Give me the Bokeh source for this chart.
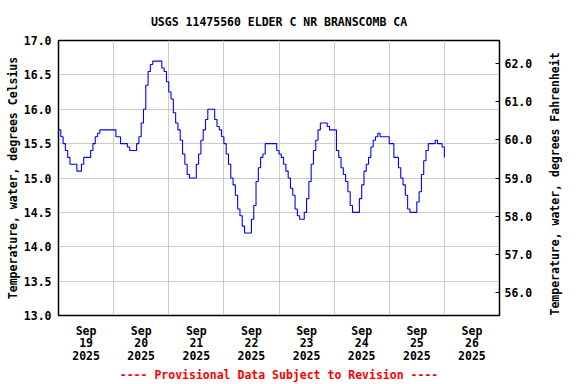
import math
from bokeh.plotting import figure
from bokeh.models import Range1d, LinearAxis, FixedTicker, Title, PrintfTickFormatter
from bokeh.embed import file_html
from bokeh.resources import INLINE

# Hourly water temperature (deg C), starting Sep 19 2025 00:00
sep19 = [15.7, 15.6, 15.5, 15.4, 15.3, 15.2, 15.2, 15.2, 15.1, 15.1, 15.2, 15.3,
         15.3, 15.3, 15.4, 15.5, 15.6, 15.65, 15.7, 15.7, 15.7, 15.7, 15.7, 15.7]
sep20 = [15.7, 15.6, 15.6, 15.5, 15.5, 15.5, 15.45, 15.4, 15.4, 15.4, 15.5, 15.6,
         15.8, 16.0, 16.35, 16.55, 16.65, 16.7, 16.7, 16.7, 16.7, 16.6, 16.55, 16.4]
sep21 = [16.25, 16.15, 15.95, 15.8, 15.7, 15.55, 15.35, 15.2, 15.05, 15.0, 15.0, 15.0,
         15.2, 15.35, 15.55, 15.7, 15.85, 16.0, 16.0, 16.0, 15.85, 15.75, 15.7, 15.6]
sep22 = [15.5, 15.35, 15.2, 15.0, 14.9, 14.75, 14.55, 14.45, 14.3, 14.2, 14.2, 14.2,
         14.4, 14.6, 14.95, 15.15, 15.3, 15.35, 15.5, 15.5, 15.5, 15.5, 15.5, 15.4]
sep23 = [15.35, 15.3, 15.2, 15.1, 15.0, 14.85, 14.75, 14.55, 14.45, 14.4, 14.4, 14.5,
         14.7, 14.95, 15.2, 15.4, 15.55, 15.7, 15.8, 15.8, 15.8, 15.75, 15.7, 15.7]
sep24 = [15.7, 15.4, 15.3, 15.15, 15.05, 14.95, 14.8, 14.6, 14.5, 14.5, 14.5, 14.7,
         14.9, 15.1, 15.2, 15.3, 15.45, 15.55, 15.6, 15.65, 15.6, 15.6, 15.6, 15.6]
sep25 = [15.5, 15.5, 15.3, 15.3, 15.15, 15.0, 14.9, 14.75, 14.55, 14.5, 14.5, 14.5,
         14.65, 14.8, 15.05, 15.25, 15.4, 15.5, 15.5, 15.5, 15.55, 15.5, 15.5, 15.45]
sep26 = [15.3]

tick_months = ["Sep"] * 8
tick_days = ["19", "20", "21", "22", "23", "24", "25", "26"]
tick_years = ["2025"] * 8
celsius_ticks = [13.0, 13.5, 14.0, 14.5, 15.0, 15.5, 16.0, 16.5, 17.0]
fahrenheit_ticks = [56.0, 57.0, 58.0, 59.0, 60.0, 61.0, 62.0]

temps = sep19 + sep20 + sep21 + sep22 + sep23 + sep24 + sep25 + sep26
hours = list(range(len(temps)))
ndays = len(tick_days)

FONT = "DejaVu Sans Mono"
FS = "11.5px"
INK = "black"

p = figure(width=576, height=384, output_backend="svg", toolbar_location=None,
           x_range=Range1d(0, ndays * 24), y_range=Range1d(13.0, 17.0),
           min_border_left=58, min_border_right=77, min_border_top=40,
           min_border_bottom=69)
p.title.text = "USGS 11475560 ELDER C NR BRANSCOMB CA"
p.title.align = "center"
p.title.text_font = FONT
p.title.text_font_size = FS
p.title.text_font_style = "bold"
p.title.text_color = INK
p.title.standoff = 23

p.outline_line_color = "black"
p.outline_line_width = 1.5
p.background_fill_color = "white"
p.border_fill_color = "white"

p.step(hours, temps, mode="after", line_color="#0000ff", line_width=1.1)

# x axis: labels at noon, grid at midnight
p.xaxis.ticker = FixedTicker(ticks=[24 * i + 12 for i in range(ndays)])
p.xaxis.major_label_overrides = {24 * i + 12: f"{tick_months[i]}\n{tick_days[i]}\n{tick_years[i]}"
                                 for i in range(ndays)}
p.xaxis.major_tick_in = 0
p.xaxis.major_tick_out = 0
p.xaxis.minor_tick_line_color = None
p.xaxis.axis_line_color = "black"
p.xaxis.major_label_text_font = FONT
p.xaxis.major_label_text_font_size = FS
p.xaxis.major_label_text_font_style = "bold"
p.xaxis.major_label_text_color = INK
p.xaxis.major_label_text_line_height = 0.9
p.xaxis.major_label_standoff = 8
p.xgrid.ticker = FixedTicker(ticks=[24 * i for i in range(ndays + 1)])
p.xgrid.grid_line_color = "#cccccc"

# left axis (Celsius)
p.yaxis.ticker = FixedTicker(ticks=celsius_ticks)
p.yaxis.formatter = PrintfTickFormatter(format="%.1f")
p.yaxis.major_tick_in = 0
p.yaxis.major_tick_out = 0
p.yaxis.minor_tick_line_color = None
p.yaxis.axis_line_color = "black"
p.yaxis.axis_label = "Temperature, water, degrees Celsius"
p.yaxis.axis_label_text_font = FONT
p.yaxis.axis_label_text_font_size = FS
p.yaxis.axis_label_text_font_style = "bold"
p.yaxis.axis_label_text_color = INK
p.yaxis.axis_label_standoff = 1
p.yaxis.major_label_text_font = FONT
p.yaxis.major_label_text_font_size = FS
p.yaxis.major_label_text_font_style = "bold"
p.yaxis.major_label_text_color = INK
p.yaxis.major_label_standoff = 7
p.ygrid.ticker = FixedTicker(ticks=celsius_ticks)
p.ygrid.grid_line_color = "#cccccc"

# right axis (Fahrenheit)
p.extra_y_ranges = {"F": Range1d(13.0 * 1.8 + 32, 17.0 * 1.8 + 32)}
ax = LinearAxis(y_range_name="F", ticker=FixedTicker(ticks=fahrenheit_ticks),
                formatter=PrintfTickFormatter(format="%.1f"),
                axis_label="Temperature, water, degrees Fahrenheit")
ax.major_tick_in = 4
ax.major_tick_out = 0
ax.minor_tick_line_color = None
ax.axis_line_color = "black"
ax.axis_label_orientation = math.pi / 2
ax.axis_label_align = "start"
ax.axis_label_text_font = FONT
ax.axis_label_text_font_size = FS
ax.axis_label_text_font_style = "bold"
ax.axis_label_text_color = INK
ax.axis_label_standoff = 20
ax.major_label_text_font = FONT
ax.major_label_text_font_size = FS
ax.major_label_text_font_style = "bold"
ax.major_label_text_color = INK
ax.major_label_standoff = 5
p.add_layout(ax, "right")

footer = Title(text="---- Provisional Data Subject to Revision ----", align="center",
               text_color="red", text_font=FONT, text_font_size=FS,
               text_font_style="bold", standoff=0, offset=0)
p.add_layout(footer, "below")

open("out.html", "w").write(file_html(p, INLINE))
